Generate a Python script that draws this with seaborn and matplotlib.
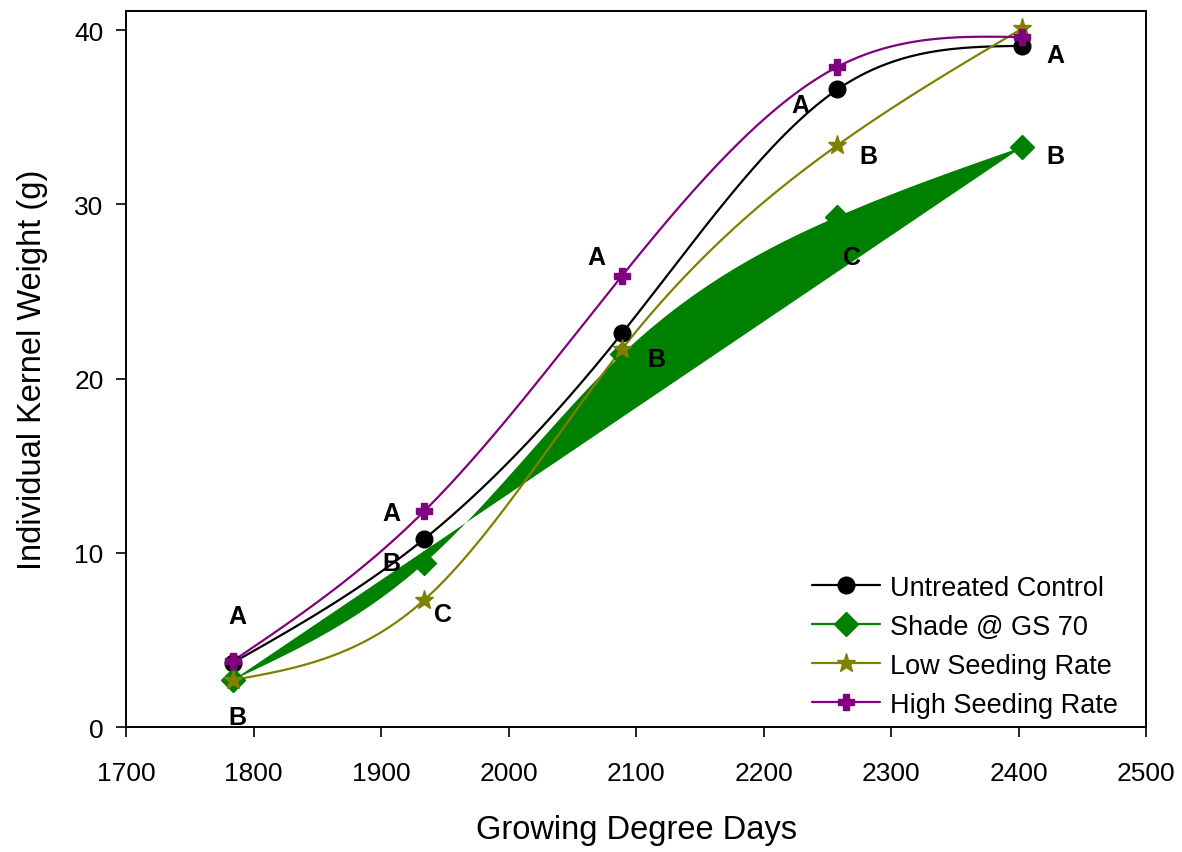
import numpy as np
import pandas as pd
import matplotlib
matplotlib.use("Agg")
import matplotlib.pyplot as plt
import seaborn as sns
from matplotlib.lines import Line2D

# kernel weight over growing degree days
gdd = [1784, 1934, 2089, 2258, 2403]
untreated = [3.7, 10.8, 22.6, 36.6, 39.1]
shade = [2.7, 9.4, 21.4, 29.3, 33.3]
low_seed = [2.7, 7.3, 21.7, 33.4, 40.1]
high_seed = [3.8, 12.4, 25.9, 37.9, 39.6]

series_names = ["Untreated Control", "Shade @ GS 70", "Low Seeding Rate", "High Seeding Rate"]
series_vals = [untreated, shade, low_seed, high_seed]
colors = ["black", "#008000", "#808000", "#800080"]
markers = ["o", "D", "*", "P"]
msizes = [12, 12, 14, 12]

# significance letters (x, y, letter)
letter_x = [1787, 1787, 1908, 1908, 1949, 2069, 2116, 2229, 2282, 2269, 2429, 2429]
letter_y = [6.4, 0.6, 12.3, 9.4, 6.5, 27.0, 21.1, 35.7, 32.8, 27.0, 38.6, 32.8]
letters = ["A", "B", "A", "B", "C", "A", "B", "A", "B", "C", "A", "B"]


def natural_spline(x, y, n=300):
    x = np.asarray(x, float)
    y = np.asarray(y, float)
    k = len(x)
    h = np.diff(x)
    A = np.zeros((k, k))
    r = np.zeros(k)
    A[0, 0] = 1
    A[-1, -1] = 1
    for i in range(1, k - 1):
        A[i, i - 1] = h[i - 1]
        A[i, i] = 2 * (h[i - 1] + h[i])
        A[i, i + 1] = h[i]
        r[i] = 6 * ((y[i + 1] - y[i]) / h[i] - (y[i] - y[i - 1]) / h[i - 1])
    m = np.linalg.solve(A, r)
    xs = np.linspace(x[0], x[-1], n)
    idx = np.clip(np.searchsorted(x, xs) - 1, 0, k - 2)
    x0, x1 = x[idx], x[idx + 1]
    hh = x1 - x0
    a = (x1 - xs) / hh
    b = (xs - x0) / hh
    ys = a * y[idx] + b * y[idx + 1] + ((a**3 - a) * m[idx] + (b**3 - b) * m[idx + 1]) * hh**2 / 6
    return xs, ys


sns.set_style("ticks")
plt.rcParams['font.family'] = ['Liberation Sans', 'DejaVu Sans']
plt.rcParams.update({"text.color": "black", "axes.labelcolor": "black",
                     "xtick.color": "black", "ytick.color": "black", "axes.edgecolor": "black"})

fig = plt.figure(figsize=(11.82, 8.53), dpi=100)
ax = fig.add_axes([0.1066, 0.1465, 0.863, 0.8394])

for name, vals, c, m, ms in zip(series_names, series_vals, colors, markers, msizes):
    xs, ys = natural_spline(gdd, vals)
    if name.startswith("Shade"):
        # the shade curve comes out as a filled polygon in the original
        ax.fill(xs, ys, color=c, lw=0, zorder=2)
    else:
        curve = pd.DataFrame({"x": xs, "y": ys})
        sns.lineplot(data=curve, x="x", y="y", color=c, lw=1.6, ax=ax, zorder=3)
    ax.plot(gdd, vals, ls="none", marker=m, ms=ms, color=c, mec=c, zorder=4)

for lx, ly, lt in zip(letter_x, letter_y, letters):
    ax.text(lx, ly, lt, fontsize=18, fontweight="bold", ha="center", va="center", zorder=5)

ax.set_xlim(1700, 2500)
ax.set_ylim(0, 41.1)
ax.set_xticks(np.arange(1700, 2501, 100))
ax.set_yticks([0, 10, 20, 30, 40])
ax.tick_params(labelsize=19, length=7.2, width=1.2, direction="out", top=False, right=False)
ax.tick_params(axis="x", pad=17)
ax.tick_params(axis="y", pad=9)
for s in ax.spines.values():
    s.set_visible(True)
    s.set_linewidth(1.4)
ax.set_xlabel("Growing Degree Days", fontsize=23.5, labelpad=21)
ax.set_ylabel("Individual Kernel Weight (g)", fontsize=23.5, labelpad=19)

handles = [Line2D([0], [0], color=c, marker=m, ms=ms, lw=1.6) for c, m, ms in zip(colors, markers, msizes)]
ax.legend(handles, series_names, loc="upper left", frameon=False, fontsize=19.5,
          handlelength=2.52, handletextpad=0.37, labelspacing=0.48, borderpad=0,
          borderaxespad=0, bbox_to_anchor=(0.6725, 0.213))

fig.savefig("out.png", dpi=100)
